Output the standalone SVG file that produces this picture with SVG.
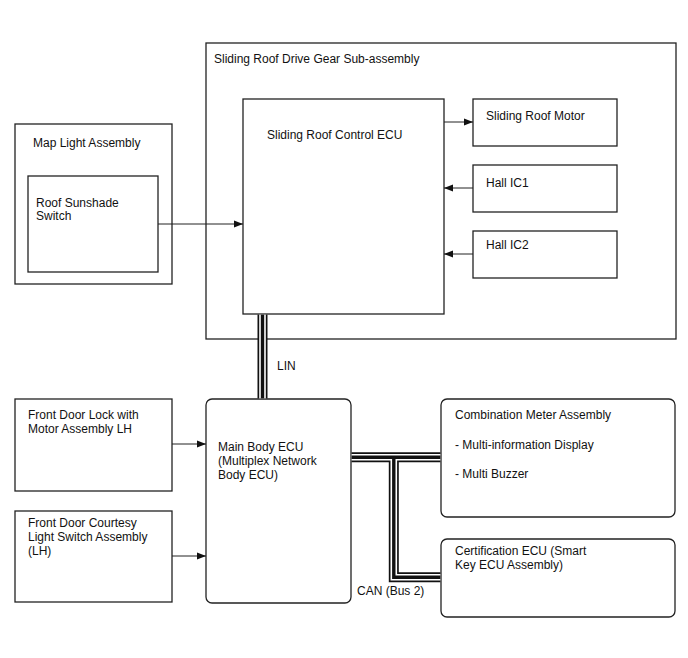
<svg xmlns="http://www.w3.org/2000/svg" width="688" height="658" viewBox="0 0 688 658">
<defs>
<marker id="arr" viewBox="0 0 10 8" refX="10" refY="4" markerWidth="9" markerHeight="7.2" markerUnits="userSpaceOnUse" orient="auto">
<path d="M0,0 L10,4 L0,8 Z" fill="#111"/>
</marker>
</defs>
<style>
.box{fill:#fff;stroke:#222;stroke-width:1.3}
.t{font-family:"Liberation Sans",Arial,sans-serif;font-size:12px;fill:#111}
.ln{fill:none;stroke:#222;stroke-width:1}
.b1{fill:none;stroke:#111;stroke-width:10;stroke-linejoin:miter}
.b2{fill:none;stroke:#fff;stroke-width:6.6;stroke-linejoin:miter}
.b3{fill:none;stroke:#111;stroke-width:3.4;stroke-linejoin:miter}
</style>
<rect width="688" height="658" fill="#fff"/>

<g id="drive-gear">
<rect class="box" x="206" y="43" width="470" height="296"/>
<text class="t" x="214" y="63">Sliding Roof Drive Gear Sub-assembly</text>
</g>
<g id="control-ecu">
<rect class="box" x="243" y="99" width="201" height="215"/>
<text class="t" x="267" y="139">Sliding Roof Control ECU</text>
</g>
<g id="motor">
<rect class="box" x="473" y="99" width="144" height="47"/>
<text class="t" x="486" y="120">Sliding Roof Motor</text>
</g>
<g id="hall-ic1">
<rect class="box" x="473" y="165" width="144" height="47"/>
<text class="t" x="486" y="187">Hall IC1</text>
</g>
<g id="hall-ic2">
<rect class="box" x="473" y="231" width="144" height="47"/>
<text class="t" x="486" y="249">Hall IC2</text>
</g>
<g id="map-light">
<rect class="box" x="15" y="124" width="157" height="160"/>
<text class="t" x="33" y="147">Map Light Assembly</text>
</g>
<g id="sunshade-switch">
<rect class="box" x="28" y="176" width="130" height="96"/>
<text class="t" x="36" y="207">Roof Sunshade</text>
<text class="t" x="36" y="220">Switch</text>
</g>
<g id="main-body-ecu">
<rect class="box" x="206" y="399" width="145" height="204" rx="6"/>
<text class="t" x="218" y="451">Main Body ECU</text>
<text class="t" x="218" y="465">(Multiplex Network</text>
<text class="t" x="218" y="479">Body ECU)</text>
</g>
<g id="door-lock">
<rect class="box" x="15" y="399" width="157" height="92"/>
<text class="t" x="28" y="419">Front Door Lock with</text>
<text class="t" x="28" y="433">Motor Assembly LH</text>
</g>
<g id="courtesy-switch">
<rect class="box" x="15" y="511" width="157" height="91"/>
<text class="t" x="28" y="527">Front Door Courtesy</text>
<text class="t" x="28" y="541">Light Switch Assembly</text>
<text class="t" x="28" y="555">(LH)</text>
</g>
<g id="combination-meter">
<rect class="box" x="441" y="399" width="234" height="118" rx="6"/>
<text class="t" x="455" y="419">Combination Meter Assembly</text>
<text class="t" x="455" y="449">- Multi-information Display</text>
<text class="t" x="455" y="478">- Multi Buzzer</text>
</g>
<g id="certification-ecu">
<rect class="box" x="441" y="539" width="234" height="78" rx="6"/>
<text class="t" x="455" y="555">Certification ECU (Smart</text>
<text class="t" x="455" y="569">Key ECU Assembly)</text>
</g>

<g id="connectors">
<line class="ln" x1="444" y1="122" x2="473" y2="122" marker-end="url(#arr)"/>
<line class="ln" x1="473" y1="188" x2="444" y2="188" marker-end="url(#arr)"/>
<line class="ln" x1="473" y1="254" x2="444" y2="254" marker-end="url(#arr)"/>
<line class="ln" x1="158" y1="224" x2="243" y2="224" marker-end="url(#arr)"/>
<line class="ln" x1="172" y1="444" x2="206" y2="444" marker-end="url(#arr)"/>
<line class="ln" x1="172" y1="556" x2="206" y2="556" marker-end="url(#arr)"/>
<g id="lin-bus">
<path class="b1" d="M262.5,314.6 V398.4"/>
<path class="b2" d="M262.5,314.6 V398.4"/>
<path class="b3" d="M262.5,314.6 V398.4"/>
<text class="t" x="277" y="370">LIN</text>
</g>
<g id="can-bus">
<path class="b1" d="M351.6,457.3 H440.4 M393.8,457.3 V577.3 H440.4"/>
<path class="b2" d="M351.6,457.3 H440.4 M393.8,457.3 V577.3 H440.4"/>
<path class="b3" d="M351.6,457.3 H440.4 M393.8,457.3 V577.3 H440.4"/>
<text class="t" x="357" y="595">CAN (Bus 2)</text>
</g>
</g>
</svg>
